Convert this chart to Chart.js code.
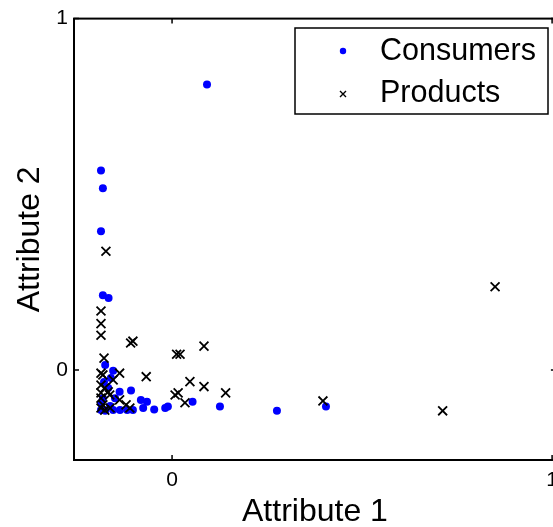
<!DOCTYPE html>
<html>
<head>
<meta charset="utf-8">
<script src="https://cdn.jsdelivr.net/npm/chart.js@4"></script>
<style>
  html, body { margin: 0; padding: 0; background: #fff; overflow: hidden; }
  #wrap { width: 566px; height: 527px; }
</style>
</head>
<body>
<div id="wrap"><canvas id="scatter" width="566" height="527"></canvas></div>
<script>
// values
const consumerX = [0.092, -0.187, -0.182, -0.187, -0.182, -0.167, -0.176, -0.155, -0.161, -0.138,
  -0.108, -0.182, -0.082, -0.066, -0.076, -0.047, -0.018, -0.011, 0.054, 0.126,
  0.276, 0.405, -0.187, -0.176, -0.163, -0.155, -0.137, -0.118, -0.103, -0.187,
  -0.168, -0.150, -0.179];
const consumerY = [0.8125, 0.568, 0.517, 0.395, 0.213, 0.205, 0.014, -0.002, -0.023, -0.062,
  -0.058, -0.080, -0.085, -0.090, -0.108, -0.112, -0.108, -0.104, -0.090, -0.104,
  -0.116, -0.104, -0.114, -0.116, -0.102, -0.114, -0.114, -0.114, -0.114, -0.094,
  -0.051, -0.080, -0.034];
const productX = [0.850, 0.712, 0.397, 0.141, 0.084, 0.084, 0.012, 0.021, 0.047, 0.016,
  0.008, 0.034, -0.068, -0.109, -0.103, -0.174, -0.187, -0.187, -0.187, -0.179,
  -0.187, -0.182, -0.138, -0.155, -0.187, -0.177, -0.168, -0.164, -0.187, -0.138,
  -0.182, -0.121, -0.111, -0.177, -0.187, -0.163, -0.187];
const productY = [0.237, -0.116, -0.088, -0.065, -0.047, 0.068, 0.045, 0.045, -0.033, -0.065,
  -0.071, -0.093, -0.019, 0.077, 0.082, 0.338, 0.168, 0.132, 0.099, 0.034,
  -0.009, -0.014, -0.009, -0.028, -0.043, -0.051, -0.062, -0.071, -0.065, -0.085,
  -0.099, -0.099, -0.108, -0.114, -0.108, -0.108, -0.080];
const xTicks = [0, 1];
const yTicks = [0, 1];
const seriesNames = ["Consumers", "Products"];

const FONT = "'Liberation Sans', Arial, sans-serif";

function toPoints(xs, ys) {
  return xs.map((x, i) => ({ x: x, y: ys[i] }));
}

// matlab style box with inward ticks + legend box
const boxPlugin = {
  id: "boxPlugin",
  afterDraw(chart) {
    const ctx = chart.ctx;
    const a = chart.chartArea;
    const xs = chart.scales.x, ys = chart.scales.y;
    ctx.save();
    ctx.strokeStyle = "#000";
    ctx.lineWidth = 2;
    ctx.strokeRect(a.left, a.top, a.right - a.left, a.bottom - a.top);
    ctx.lineWidth = 1.5;
    xTicks.forEach(v => {
      const px = xs.getPixelForValue(v);
      ctx.beginPath();
      ctx.moveTo(px, a.bottom); ctx.lineTo(px, a.bottom - 5);
      ctx.moveTo(px, a.top); ctx.lineTo(px, a.top + 5);
      ctx.stroke();
    });
    yTicks.forEach(v => {
      const py = ys.getPixelForValue(v);
      ctx.beginPath();
      ctx.moveTo(a.left, py); ctx.lineTo(a.left + 5, py);
      ctx.moveTo(a.right, py); ctx.lineTo(a.right - 5, py);
      ctx.stroke();
    });

    // legend
    const lx = 295, ly = 28, lw = 253, lh = 86;
    ctx.fillStyle = "#fff";
    ctx.fillRect(lx, ly, lw, lh);
    ctx.lineWidth = 1.5;
    ctx.strokeRect(lx, ly, lw, lh);
    ctx.font = "30.5px " + FONT;
    ctx.textBaseline = "middle";
    ctx.textAlign = "left";
    ctx.fillStyle = "#000";
    ctx.fillText(seriesNames[0], 380, 52);
    ctx.fillText(seriesNames[1], 380, 94);
    ctx.fillStyle = "#0000ff";
    ctx.beginPath();
    ctx.arc(343, 51, 3.2, 0, Math.PI * 2);
    ctx.fill();
    ctx.strokeStyle = "#000";
    ctx.lineWidth = 1.4;
    ctx.beginPath();
    ctx.moveTo(340, 91); ctx.lineTo(346, 97);
    ctx.moveTo(346, 91); ctx.lineTo(340, 97);
    ctx.stroke();
    ctx.restore();
  }
};

const ctx = document.getElementById("scatter").getContext("2d");
const chart = new Chart(ctx, {
  type: "scatter",
  data: {
    datasets: [
      {
        label: seriesNames[0],
        data: toPoints(consumerX, consumerY),
        pointStyle: "circle",
        pointRadius: 4,
        backgroundColor: "#0000ff",
        borderColor: "#0000ff",
        borderWidth: 0,
        order: 1
      },
      {
        label: seriesNames[1],
        data: toPoints(productX, productY),
        pointStyle: "crossRot",
        pointRadius: 6.3,
        borderColor: "#000",
        backgroundColor: "#000",
        borderWidth: 1.8,
        order: 0
      }
    ]
  },
  options: {
    responsive: false,
    animation: false,
    layout: { padding: { top: 18, right: 4, left: 0, bottom: 0 } },
    plugins: {
      legend: { display: false },
      tooltip: { enabled: false }
    },
    scales: {
      x: {
        type: "linear",
        min: -0.258,
        max: 1.01,
        afterBuildTicks: s => { s.ticks = xTicks.map(v => ({ value: v })); },
        afterFit: s => { s.height = 67; },
        grid: { display: false, drawTicks: false },
        border: { display: false },
        ticks: { color: "#000", font: { family: FONT, size: 21 }, padding: 8 },
        title: { display: true, text: "Attribute 1", color: "#000", font: { family: FONT, size: 32 }, padding: { top: 0, bottom: -4 } }
      },
      y: {
        type: "linear",
        min: -0.256,
        max: 1.0,
        afterBuildTicks: s => { s.ticks = yTicks.map(v => ({ value: v })); },
        afterFit: s => { s.width = 74; },
        grid: { display: false, drawTicks: false },
        border: { display: false },
        ticks: { color: "#000", font: { family: FONT, size: 21 }, padding: 6 },
        title: { display: true, text: "Attribute 2", color: "#000", font: { family: FONT, size: 32 }, padding: { bottom: 0, top: 11 } }
      }
    }
  },
  plugins: [boxPlugin]
});
</script>
</body>
</html>
